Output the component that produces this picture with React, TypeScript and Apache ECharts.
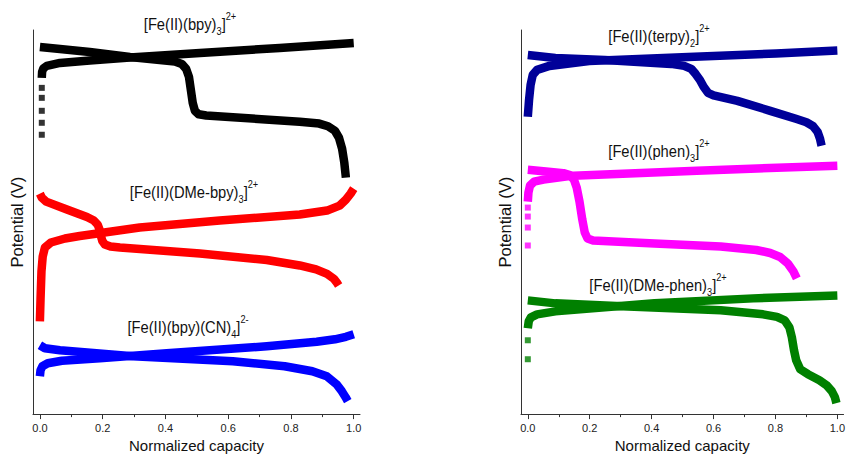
import React, { useEffect, useRef } from "react";
import * as echarts from "echarts";

type Pt = [number, number];

// Normalized capacity axis ticks
const majorTicks = [0, 0.2, 0.4, 0.6, 0.8, 1.0];
const minorTicks = [0.1, 0.3, 0.5, 0.7, 0.9];

// ---- Left panel: bpy family (potentials stacked with offsets, V) ----
const bpyCharge: Pt[] = [[0.006, 3.37], [0.007, 3.43], [0.011, 3.465], [0.022, 3.49], [0.064, 3.52], [0.159, 3.545], [0.287, 3.575], [0.51, 3.62], [0.764, 3.67], [1.0, 3.72]];
const bpyChargeDots: Pt[] = [[0.006, 3.27], [0.006, 3.17], [0.006, 3.04], [0.006, 2.92], [0.006, 2.8]];
const bpyDischarge: Pt[] = [[0, 3.68], [0.064, 3.66], [0.159, 3.63], [0.287, 3.58], [0.382, 3.55], [0.43, 3.535], [0.452, 3.51], [0.466, 3.46], [0.475, 3.38], [0.481, 3.25], [0.487, 3.12], [0.494, 3.04], [0.506, 3.005], [0.53, 2.993], [0.615, 2.975], [0.828, 2.93], [0.89, 2.912], [0.918, 2.885], [0.94, 2.84], [0.953, 2.77], [0.963, 2.66], [0.97, 2.52], [0.975, 2.37]];

const dmeBpyCharge: Pt[] = [[0, 0.93], [0.002, 1.15], [0.005, 1.43], [0.009, 1.58], [0.016, 1.67], [0.035, 1.72], [0.08, 1.76], [0.127, 1.785], [0.318, 1.87], [0.573, 1.94], [0.828, 2.0], [0.915, 2.04], [0.955, 2.09], [0.975, 2.15], [0.99, 2.21], [1.0, 2.26]];
const dmeBpyDischarge: Pt[] = [[0, 2.21], [0.006, 2.17], [0.02, 2.13], [0.086, 2.05], [0.15, 1.975], [0.172, 1.94], [0.184, 1.9], [0.19, 1.85], [0.194, 1.79], [0.199, 1.735], [0.207, 1.7], [0.225, 1.68], [0.255, 1.67], [0.51, 1.61], [0.723, 1.545], [0.828, 1.49], [0.88, 1.45], [0.915, 1.405], [0.937, 1.355], [0.948, 1.31], [0.952, 1.29]];

const cnCharge: Pt[] = [[0, 0.38], [0.002, 0.44], [0.008, 0.48], [0.025, 0.51], [0.07, 0.535], [0.191, 0.56], [0.404, 0.61], [0.723, 0.68], [0.882, 0.725], [0.94, 0.75], [0.975, 0.775], [1.0, 0.8]];
const cnDischarge: Pt[] = [[0, 0.69], [0.016, 0.66], [0.064, 0.64], [0.296, 0.58], [0.615, 0.53], [0.78, 0.48], [0.868, 0.43], [0.914, 0.38], [0.945, 0.3], [0.962, 0.23], [0.974, 0.17], [0.981, 0.13]];

// ---- Right panel: terpy / phen family ----
const terpyCharge: Pt[] = [[0, 2.98], [0.004, 3.15], [0.009, 3.3], [0.016, 3.4], [0.03, 3.45], [0.07, 3.49], [0.198, 3.54], [0.518, 3.58], [0.802, 3.615], [1.0, 3.645]];
const terpyDischarge: Pt[] = [[0, 3.6], [0.089, 3.57], [0.249, 3.55], [0.463, 3.51], [0.505, 3.49], [0.528, 3.46], [0.542, 3.41], [0.556, 3.35], [0.568, 3.28], [0.582, 3.22], [0.6, 3.195], [0.677, 3.14], [0.783, 3.04], [0.866, 2.96], [0.9, 2.925], [0.922, 2.885], [0.936, 2.83], [0.944, 2.76], [0.949, 2.69]];

const phenCharge: Pt[] = [[0, 2.13], [0.002, 2.22], [0.007, 2.29], [0.02, 2.33], [0.051, 2.35], [0.147, 2.39], [0.546, 2.44], [1.0, 2.49]];
const phenChargeDots: Pt[] = [[0, 2.07], [0, 1.98], [0, 1.87], [0, 1.69]];
const phenDischarge: Pt[] = [[0, 2.45], [0.067, 2.43], [0.115, 2.415], [0.136, 2.395], [0.149, 2.35], [0.158, 2.27], [0.167, 2.13], [0.176, 1.95], [0.184, 1.82], [0.193, 1.76], [0.211, 1.74], [0.409, 1.71], [0.623, 1.68], [0.738, 1.645], [0.783, 1.615], [0.815, 1.575], [0.84, 1.51], [0.858, 1.43], [0.869, 1.36]];

const dmePhenCharge: Pt[] = [[0, 0.86], [0.003, 0.93], [0.01, 0.97], [0.03, 1.0], [0.089, 1.03], [0.409, 1.11], [0.728, 1.16], [1.0, 1.19]];
const dmePhenChargeDots: Pt[] = [[0, 0.74], [0, 0.55]];
const dmePhenDischarge: Pt[] = [[0, 1.14], [0.089, 1.11], [0.304, 1.08], [0.623, 1.04], [0.76, 1.0], [0.805, 0.975], [0.83, 0.94], [0.845, 0.87], [0.853, 0.77], [0.86, 0.64], [0.867, 0.54], [0.88, 0.45], [0.905, 0.4], [0.942, 0.34], [0.965, 0.29], [0.982, 0.23], [0.992, 0.17], [0.997, 0.11]];

// Complex labels: [main, subscript, superscript]
const labelBpy = ["[Fe(II)(bpy)", "3", "2+"];
const labelDmeBpy = ["[Fe(II)(DMe-bpy)", "3", "2+"];
const labelCn = ["[Fe(II)(bpy)(CN)", "4", "2-"];
const labelTerpy = ["[Fe(II)(terpy)", "2", "2+"];
const labelPhen = ["[Fe(II)(phen)", "3", "2+"];
const labelDmePhen = ["[Fe(II)(DMe-phen)", "3", "2+"];

const FONT = "'Liberation Sans', Arial, Helvetica, sans-serif";

function formulaText(parts: string[], x: number, y: number) {
  const [main, sub, sup] = parts;
  return {
    type: "text",
    x,
    y,
    scaleX: 0.92,
    style: {
      text: `{m|${main}}{s|${sub}}{m|]}{p|${sup}}`,
      align: "center",
      verticalAlign: "middle",
      fontFamily: FONT,
      fill: "#111",
      rich: {
        m: { fontSize: 16, lineHeight: 25, verticalAlign: "middle", fill: "#111", fontFamily: FONT },
        s: { fontSize: 10, lineHeight: 25, verticalAlign: "bottom", fill: "#111", fontFamily: FONT },
        p: { fontSize: 10, lineHeight: 25, verticalAlign: "top", fill: "#111", fontFamily: FONT },
      },
    },
  };
}

const X_MIN = -0.022;
const X_MAX = 1.02;

function mainXAxis(gridIndex: number) {
  return {
    type: "value",
    gridIndex,
    position: "bottom",
    min: X_MIN,
    max: X_MAX,
    name: "Normalized capacity",
    nameLocation: "middle",
    nameGap: 17,
    nameTextStyle: { fontSize: 15, color: "#111", fontFamily: FONT },
    axisLine: { show: true, onZero: false, lineStyle: { color: "#333", width: 1 } },
    axisTick: { show: true, customValues: majorTicks, length: 5, lineStyle: { color: "#333" } },
    axisLabel: {
      show: true,
      customValues: majorTicks,
      formatter: (v: number) => v.toFixed(1),
      fontSize: 11,
      color: "#222",
      margin: 8,
      fontFamily: FONT,
    },
    splitLine: { show: false },
  };
}

function minorXAxis(gridIndex: number) {
  return {
    type: "value",
    gridIndex,
    position: "bottom",
    min: X_MIN,
    max: X_MAX,
    axisLine: { show: false, onZero: false },
    axisTick: { show: true, customValues: minorTicks, length: 3, lineStyle: { color: "#333" } },
    axisLabel: { show: false },
    splitLine: { show: false },
  };
}

function yAxis(gridIndex: number) {
  return {
    type: "value",
    gridIndex,
    min: 0,
    max: 3.85,
    name: "Potential (V)",
    nameLocation: "middle",
    nameGap: 8,
    nameTextStyle: { fontSize: 16.5, color: "#111", fontFamily: FONT },
    axisLine: { show: true, onZero: false, lineStyle: { color: "#333", width: 1 } },
    axisTick: { show: false },
    axisLabel: { show: false },
    splitLine: { show: false },
  };
}

function curve(data: Pt[], color: string, panel: number) {
  return {
    type: "line",
    xAxisIndex: panel === 0 ? 0 : 2,
    yAxisIndex: panel,
    data,
    showSymbol: false,
    smooth: false,
    lineStyle: { color, width: 8.5, join: "round", cap: "butt" },
    itemStyle: { color },
    silent: true,
  };
}

function dots(data: Pt[], color: string, panel: number) {
  return {
    type: "scatter",
    xAxisIndex: panel === 0 ? 0 : 2,
    yAxisIndex: panel,
    data,
    symbol: "rect",
    symbolSize: 6,
    itemStyle: { color },
    silent: true,
  };
}

export default function App() {
  const ref = useRef<HTMLDivElement>(null);

  useEffect(() => {
    if (!ref.current) return;
    const chart = echarts.init(ref.current, null, { renderer: "svg" });
    const BLACK = "#000000";
    const RED = "#ff0000";
    const BLUE = "#0000ff";
    const NAVY = "#000099";
    const MAGENTA = "#ff00ff";
    const GREEN = "#008000";

    chart.setOption({
      animation: false,
      backgroundColor: "#ffffff",
      textStyle: { fontFamily: FONT },
      grid: [
        { left: 33, top: 30, width: 327, height: 385, containLabel: false },
        { left: 521, top: 30, width: 327, height: 385, containLabel: false },
      ],
      xAxis: [mainXAxis(0), minorXAxis(0), mainXAxis(1), minorXAxis(1)],
      yAxis: [yAxis(0), yAxis(1)],
      series: [
        curve(bpyDischarge, BLACK, 0),
        curve(bpyCharge, BLACK, 0),
        dots(bpyChargeDots, BLACK, 0),
        curve(dmeBpyDischarge, RED, 0),
        curve(dmeBpyCharge, RED, 0),
        curve(cnDischarge, BLUE, 0),
        curve(cnCharge, BLUE, 0),
        curve(terpyDischarge, NAVY, 1),
        curve(terpyCharge, NAVY, 1),
        curve(phenDischarge, MAGENTA, 1),
        curve(phenCharge, MAGENTA, 1),
        dots(phenChargeDots, MAGENTA, 1),
        curve(dmePhenDischarge, GREEN, 1),
        curve(dmePhenCharge, GREEN, 1),
        dots(dmePhenChargeDots, GREEN, 1),
      ],
      graphic: [
        formulaText(labelBpy, 190, 24),
        formulaText(labelDmeBpy, 194, 192),
        formulaText(labelCn, 188, 327),
        formulaText(labelTerpy, 659, 36),
        formulaText(labelPhen, 659, 151),
        formulaText(labelDmePhen, 658, 285),
      ],
    });
    return () => chart.dispose();
  }, []);

  return (
    <div
      ref={ref}
      style={{ position: "absolute", left: 0, top: 0, width: 848, height: 458, background: "#fff" }}
    />
  );
}
